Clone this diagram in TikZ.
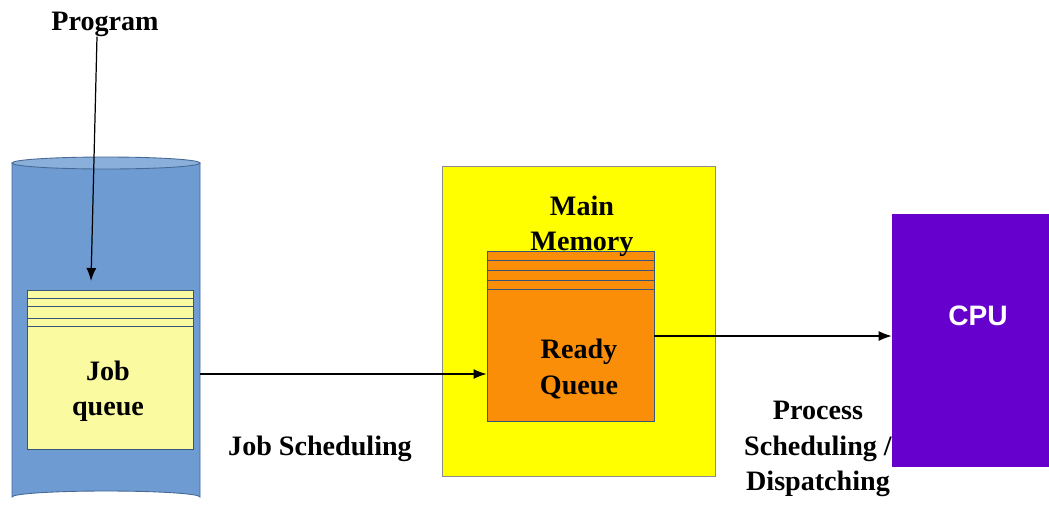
\documentclass[tikz,border=0pt]{standalone}
\usepackage{fontspec}
\setmainfont{Liberation Serif}
\setsansfont{Liberation Sans}
\usepackage{tikz}
\usetikzlibrary{arrows.meta,
  calc,
  positioning
}
\definecolor{diskblue}{RGB}{110,155,210}
\definecolor{diskedge}{RGB}{70,105,150}
\definecolor{jobyellow}{RGB}{250,250,160}
\definecolor{memyellow}{RGB}{255,255,0}
\definecolor{readyorange}{RGB}{250,142,8}
\definecolor{cpupurple}{RGB}{102,0,204}
\tikzset{
  lbl/.style={font=\fontsize{16}{20}\selectfont\bfseries,align=center,inner sep=0pt},
  qbox/.style={draw=diskedge!80!black,line width=0.5pt,inner sep=0pt},
  flow/.style={-{Latex[length=2.6mm,width=2mm]},line width=0.7pt}
}

\begin{document}
\begin{tikzpicture}[x=0.02cm,y=-0.02cm]
  \useasboundingbox (0,0) rectangle (1049,505);

  % disk holding the job queue
  \fill[diskblue,draw=diskedge,line width=0.5pt]
    (12,163) -- (12,497) arc[start angle=180,end angle=360,x radius=94,y radius=6]
    -- (200,163) -- cycle;
  \fill[diskblue!80!white,draw=diskedge,line width=0.5pt] (106,163) ellipse[x radius=94,y radius=6];

  \node[qbox,fill=jobyellow,minimum width=3.32cm,minimum height=3.18cm] (jobq) at (110,369.5) {};
  \foreach \y in {298,306,318,326}
    \draw[diskedge!80!black,line width=0.5pt] (27,\y) -- (193,\y);
  \node[lbl] (jobtxt) at (108,391) {Job\\queue};

  % main memory
  \node[draw=black!45,fill=memyellow,line width=0.5pt,minimum width=5.46cm,minimum height=6.2cm] (mem) at (578.5,321) {};
  \node[qbox,fill=readyorange,minimum width=3.34cm,minimum height=3.4cm] (rq) at (570.5,336) {};
  \foreach \y in {260,270,280,289}
    \draw[diskedge!80!black,line width=0.5pt] (487,\y) -- (654,\y);
  \node[lbl] (memtxt) at (582,226) {Main\\Memory};
  \node[lbl] (rqtxt) at (579,369) {Ready\\Queue};

  % cpu
  \node[fill=cpupurple,minimum width=3.14cm,minimum height=5.06cm,inner sep=0pt] (cpu) at (970.5,340.5) {};
  \node[lbl,white,font=\sffamily\fontsize{16}{20}\selectfont\bfseries] (cputxt) at (978,316) {CPU};

  % labels
  \node[lbl] (prog) at (105,24) {Program};
  \node[lbl] (jobsched) at (320,449) {Job Scheduling};
  \node[lbl] (procsched) at (818,449) {Process\\Scheduling /\\Dispatching};

  % arrows
  \coordinate (progin) at (91,281);
  \coordinate (diskout) at (200,374);
  \draw[flow] ([xshift=-0.16cm]prog.south) -- (progin);
  \draw[flow] (diskout) -- (diskout -| rq.west);
  \draw[flow] (rq.east) -- (rq.east -| cpu.west);
\end{tikzpicture}
\end{document}
